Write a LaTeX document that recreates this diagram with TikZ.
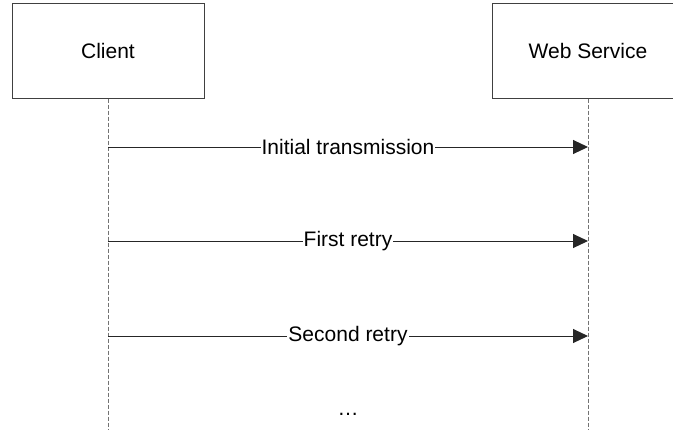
\documentclass[tikz,border=0pt]{standalone}
\usepackage{fontspec}
\setmainfont{Liberation Sans}
\usepackage{tikz}
\usetikzlibrary{arrows.meta,positioning,calc}

\tikzset{
  party/.style={draw=black!75,line width=0.5pt,fill=white,minimum width=96pt,minimum height=47.5pt,inner sep=0pt,font=\fontsize{10.5}{12}\selectfont},
  lifeline/.style={draw=black!55,line width=0.5pt,dash pattern=on 2pt off 1pt},
  msg/.style={draw=black!85,line width=0.5pt,-{Triangle[length=7.5pt,width=7pt]}},
  msglabel/.style={fill=white,inner sep=0.5pt,font=\fontsize{10.5}{12}\selectfont}
}

\begin{document}
\begin{tikzpicture}[x=0.5pt,y=-0.5pt]
\clip (0,0) rectangle (673,429);
\fill[white] (0,0) rectangle (673,429);

% Participants
\node[party] (client) at (108,50.5) {Client};
\node[party] (service) at (588,50.5) {Web Service};

% Lifelines
\coordinate (clientend) at (108,429);
\coordinate (serviceend) at (588,429);
\draw[lifeline] (client.south) -- (clientend);
\draw[lifeline] (service.south) -- (serviceend);

% Messages
\foreach \y/\txt [count=\i] in {147/Initial transmission, 241/First retry, 336/Second retry} {
    \coordinate (c\i) at (client.south |- 0,\y);
    \coordinate (s\i) at (service.south |- 0,\y);
    \draw[msg] (c\i) -- node[msglabel] {\txt} (s\i);
}

% Dots
\node[msglabel,anchor=base] (more) at (348,415) {\ldots};
\end{tikzpicture}
\end{document}
